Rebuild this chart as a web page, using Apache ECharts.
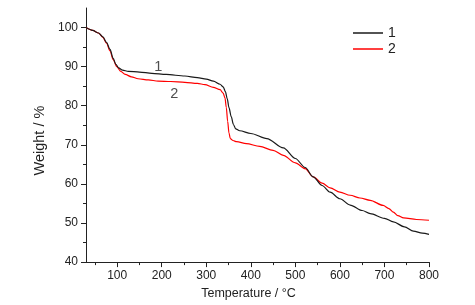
<!DOCTYPE html>
<html>
<head>
<meta charset="utf-8">
<script src="https://cdn.jsdelivr.net/npm/echarts@6/dist/echarts.min.js"></script>
<style>
  html, body { margin: 0; padding: 0; background: #fff; }
  #chart_container { width: 475px; height: 305px; }
</style>
</head>
<body>
<div id="chart_container"></div>
<script>
"use strict";

// TGA curves, [temperature °C, weight %]
const sample1 = [
  [30, 100], [45, 99.3], [58, 98.6], [68, 97.6], [76, 96.2], [84, 94.4], [91, 92.1], [97, 90.6],
  [103, 89.7], [112, 89.1], [125, 88.8], [150, 88.6], [178, 88.3], [210, 88.0], [252, 87.6],
  [280, 87.2], [300, 86.8], [316, 86.3], [331, 85.5], [338, 84.8], [343, 83.6], [347, 81.8],
  [351, 79.5], [356, 77.2], [361, 75.2], [366, 74.1], [375, 73.6], [400, 72.9], [436, 71.6],
  [473, 69.2], [500, 66.5], [522, 64.2], [540, 61.8], [560, 59.6], [578, 57.9], [600, 56.2],
  [623, 54.6], [650, 53.2], [668, 52.4], [700, 51.2], [720, 50.3], [745, 49.0], [765, 47.9],
  [785, 47.4], [800, 47.1]
];
const sample2 = [
  [30, 100], [45, 99.3], [58, 98.6], [68, 97.5], [76, 96.0], [84, 94.0], [91, 91.8], [99, 90.0],
  [108, 88.8], [118, 88.0], [132, 87.4], [147, 86.9], [170, 86.6], [192, 86.3], [220, 86.2],
  [252, 86.0], [280, 85.7], [297, 85.4], [316, 84.7], [331, 84.1], [338, 83.2], [342, 82.0],
  [345, 79.5], [348, 76.0], [351, 73.0], [354, 71.6], [360, 71.1], [368, 70.8], [390, 70.3],
  [420, 69.6], [450, 68.6], [473, 67.3], [500, 65.4], [522, 63.9], [540, 61.8], [560, 60.2],
  [578, 59.0], [600, 57.9], [623, 57.1], [645, 56.4], [668, 55.8], [697, 54.5], [710, 53.7],
  [720, 52.8], [730, 51.9], [743, 51.3], [772, 50.9], [800, 50.7]
];

const seriesNames = ['1', '2'];
const xTicks = [100, 200, 300, 400, 500, 600, 700, 800];
const xMinorTicks = [50, 150, 250, 350, 450, 550, 650, 750];
const yTicks = [40, 50, 60, 70, 80, 90, 100];
const yMinorTicks = [45, 55, 65, 75, 85, 95];
// curve labels placed in data space
const curveLabels = [[192, 89.9, '1'], [228, 83.0, '2']];

const FONT = 'Liberation Sans, Arial, sans-serif';
const grid = { left: 86, right: 46, top: 8, bottom: 41 };

let baseX = (ticks, len, showLabel) => ({
  type: 'value', min: 30, max: 800, position: 'bottom', offset: 0,
  axisLine: { show: showLabel, lineStyle: { color: '#222', width: 1 } },
  axisTick: { show: true, customValues: ticks, length: len, inside: false, lineStyle: { color: '#222' } },
  axisLabel: { show: showLabel, customValues: ticks, margin: 8, color: '#222', fontSize: 12, fontFamily: FONT },
  splitLine: { show: false }
});
let baseY = (ticks, len, showLabel) => ({
  type: 'value', min: 40, max: 105, position: 'left', offset: 0,
  axisLine: { show: showLabel, lineStyle: { color: '#222', width: 1 } },
  axisTick: { show: true, customValues: ticks, length: len, inside: false, lineStyle: { color: '#222' } },
  axisLabel: { show: showLabel, customValues: ticks, margin: 8, color: '#222', fontSize: 12, fontFamily: FONT },
  splitLine: { show: false }
});

let xMain = baseX(xTicks, 5, true);
xMain.name = 'Temperature / °C';
xMain.nameLocation = 'middle';
xMain.nameGap = 24;
xMain.nameTextStyle = { color: '#222', fontSize: 12.5, fontFamily: FONT, padding: [0, 18, 0, 0] };
let yMain = baseY(yTicks, 5, true);
yMain.name = 'Weight / %';
yMain.nameLocation = 'middle';
yMain.nameGap = 27;
yMain.nameTextStyle = { color: '#222', fontSize: 14.5, fontFamily: FONT, padding: [0, 11, 0, 0] };

const optEchart = {
  animation: false,
  backgroundColor: '#fff',
  grid: grid,
  legend: {
    data: seriesNames,
    orient: 'vertical',
    left: 348, top: 20,
    icon: 'rect',
    itemWidth: 30, itemHeight: 1.5, itemGap: 0,
    textStyle: { color: '#222', fontSize: 14, fontFamily: FONT, lineHeight: 16 }
  },
  xAxis: [xMain, baseX(xMinorTicks, 3, false)],
  yAxis: [yMain, baseY(yMinorTicks, 3, false)],
  series: [
    {
      name: seriesNames[0], type: 'line', data: sample1, showSymbol: false, symbol: 'none',
      smooth: 0.3, smoothMonotone: 'x', color: '#1a1a1a',
      lineStyle: { color: '#1a1a1a', width: 1.2 }, z: 3
    },
    {
      name: seriesNames[1], type: 'line', data: sample2, showSymbol: false, symbol: 'none',
      smooth: 0.3, smoothMonotone: 'x', color: '#ff0000',
      lineStyle: { color: '#ff0000', width: 1.2 }, z: 2
    },
    {
      name: 'labels', type: 'scatter', data: curveLabels, symbolSize: 0, silent: true,
      label: {
        show: true, position: 'inside', formatter: (p) => p.data[2],
        color: '#222', fontSize: 14.5, fontFamily: FONT
      }
    }
  ]
};

let pageLoaded = () => {
  let chartDom = document.getElementById('chart_container');
  let myChart = echarts.init(chartDom);
  myChart.setOption(optEchart);
};

window.addEventListener('load', pageLoaded, false);
</script>
</body>
</html>
